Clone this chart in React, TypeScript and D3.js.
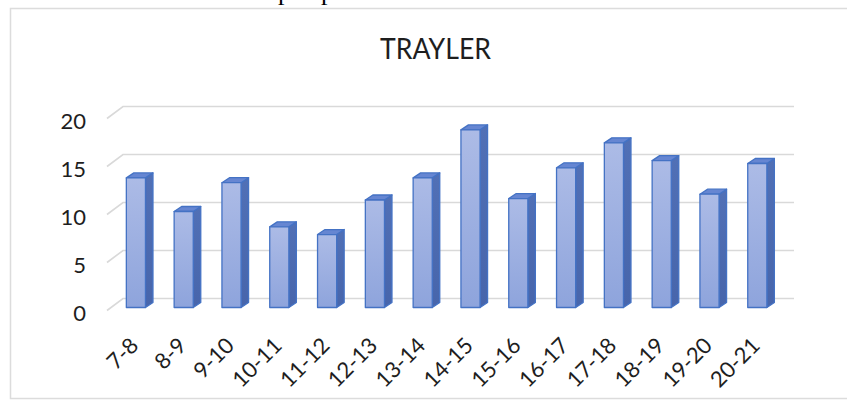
import React from "react";
import * as d3 from "d3";

const title = "TRAYLER";
const categories = ["7-8", "8-9", "9-10", "10-11", "11-12", "12-13", "13-14", "14-15", "15-16", "16-17", "17-18", "18-19", "19-20", "20-21"];
const values = [13.5, 10, 13, 8.4, 7.6, 11.2, 13.5, 18.5, 11.35, 14.55, 17.15, 15.3, 11.8, 15];
const yTicks = [0, 5, 10, 15, 20];

const W = 847;
const H = 402;
const FONT = "Lato, 'Open Sans', sans-serif";

export default function App() {
  // back wall vertical scale
  const yBack = d3.scaleLinear().domain([0, 20]).range([298.5, 106.5]);
  const wallLeft = 123;
  const wallRight = 794;
  const depthX = -16;
  const depthY = 12;
  // bars front face
  const x = d3.scaleBand<string>().domain(categories).range([112, 781.2]).paddingInner(0.6).paddingOuter(0.3);
  const barShift = 9; // front of bars sits lower than back wall
  const bdx = 7.5;
  const bdy = -5;
  const bw = x.bandwidth();

  return (
    <svg width={W} height={H} style={{ position: "absolute", left: 0, top: 0, background: "#fff" }}>
      <defs>
        <linearGradient id="frontGrad" x1="0" y1="0" x2="0" y2="1">
          <stop offset="0" stopColor="#acbbe6" />
          <stop offset="1" stopColor="#8ea4dc" />
        </linearGradient>
        <linearGradient id="sideGrad" x1="0" y1="0" x2="0" y2="1">
          <stop offset="0" stopColor="#5170b6" />
          <stop offset="1" stopColor="#4765ab" />
        </linearGradient>
      </defs>
      <rect x={0} y={0} width={W} height={H} fill="#fff" />
      {/* clipped text descenders from the page above */}
      <text x={278} y={0} fontFamily="'Liberation Serif', serif" fontSize={26} fill="#000">p</text>
      <text x={321} y={0} fontFamily="'Liberation Serif', serif" fontSize={26} fill="#000">p</text>
      {/* chart frame */}
      <rect x={10.5} y={8.5} width={900} height={390} fill="#fff" stroke="#dcdcdc" strokeWidth={1.5} />

      <text x={435.5} y={59} textAnchor="middle" fontFamily={FONT} fontSize={29} fill="#1e1e1e" textLength={111} lengthAdjust="spacingAndGlyphs">
        {title}
      </text>

      {/* gridlines */}
      {yTicks.map((t) => (
        <g key={t}>
          <polyline
            points={`${wallLeft + depthX},${yBack(t) + depthY} ${wallLeft},${yBack(t)} ${wallRight},${yBack(t)}`}
            fill="none"
            stroke="#d9d9d9"
            strokeWidth={1.6}
          />
          <text x={86} y={yBack(t) + 22} textAnchor="end" fontFamily={FONT} fontSize={22} fill="#1e1e1e">
            {t}
          </text>
        </g>
      ))}

      {/* bars */}
      {categories.map((c, i) => {
        const x0 = x(c) as number;
        const yb = yBack(0) + barShift;
        const yt = yBack(values[i]) + barShift;
        const x1 = x0 + bw;
        return (
          <g key={c} stroke="#4472c4" strokeWidth={1.3} strokeLinejoin="round">
            <polygon points={`${x1},${yt} ${x1 + bdx},${yt + bdy} ${x1 + bdx},${yb + bdy} ${x1},${yb}`} fill="url(#sideGrad)" />
            <polygon points={`${x0},${yt} ${x0 + bdx},${yt + bdy} ${x1 + bdx},${yt + bdy} ${x1},${yt}`} fill="#6686d2" />
            <rect x={x0} y={yt} width={bw} height={yb - yt} fill="url(#frontGrad)" />
          </g>
        );
      })}

      {/* x labels */}
      {categories.map((c) => {
        const cx = (x(c) as number) + bw / 2;
        return (
          <text
            key={c}
            transform={`translate(${cx + 4},${347}) rotate(-45)`}
            textAnchor="end"
            fontFamily={FONT}
            fontSize={22}
            fill="#1e1e1e"
          >
            {c}
          </text>
        );
      })}
    </svg>
  );
}
